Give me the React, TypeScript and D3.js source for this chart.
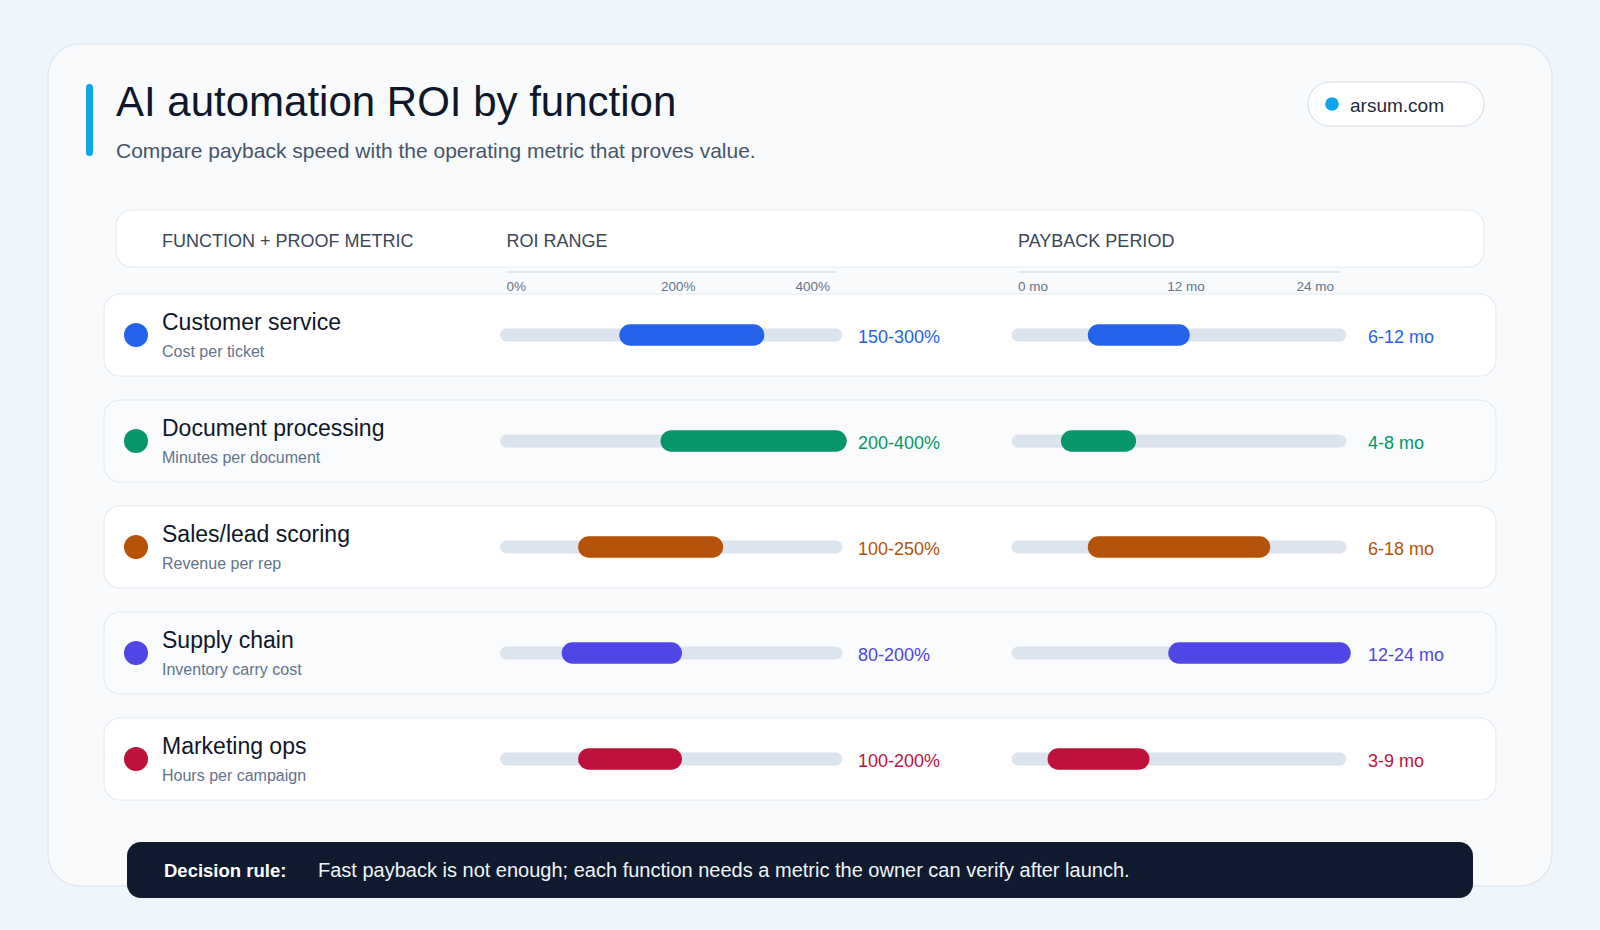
import * as d3 from 'd3';

const functions = ['Customer service', 'Document processing', 'Sales/lead scoring', 'Supply chain', 'Marketing ops'];
const proofMetrics = ['Cost per ticket', 'Minutes per document', 'Revenue per rep', 'Inventory carry cost', 'Hours per campaign'];
const roiLow = [150, 200, 100, 80, 100];
const roiHigh = [300, 400, 250, 200, 200];
const paybackLow = [6, 4, 6, 12, 3];
const paybackHigh = [12, 8, 18, 24, 9];
const seriesColors = ['#2563eb', '#059669', '#b45309', '#4f46e5', '#be123c'];
const roiTicks = [0, 200, 400];
const paybackTicks = [0, 12, 24];

const FONT = "'Liberation Sans', Arial, Helvetica, sans-serif";
const W = 1600;
const H = 930;

export default function App() {
  const roiX = d3.scaleLinear().domain([0, 400]).range([506.5, 836]);
  const payX = d3.scaleLinear().domain([0, 24]).range([1018, 1340]);
  const rowY = d3.scaleBand<string>()
    .domain(functions)
    .range([294, 800])
    .paddingInner(24 / 106)
    .paddingOuter(0);

  // first tick label sits on the axis start, last one ends near the axis end
  const tickAnchor = (i: number, n: number) => (i === 0 ? 'start' : i === n - 1 ? 'end' : 'middle');
  const tickShift = (i: number, n: number) => (i === 0 ? 0 : i === n - 1 ? -6 : 7);

  return (
    <svg width={W} height={H} viewBox={`0 0 ${W} ${H}`}
      style={{ position: 'fixed', left: 0, top: 0, display: 'block' }}
      fontFamily={FONT}>
      <rect width={W} height={H} fill="#eef5fb" />

      {/* main card */}
      <rect x={48} y={44} width={1504} height={842} rx={32} fill="#f8fafc" stroke="#e1e8f0" strokeWidth={1.5} />

      {/* heading */}
      <rect x={86} y={84} width={7} height={72} rx={3.5} fill="#0ea5e9" />
      <text x={116} y={116} fontSize={42} fill="#0f172a">AI automation ROI by function</text>
      <text x={116} y={158} fontSize={21} fill="#475569">Compare payback speed with the operating metric that proves value.</text>

      {/* badge */}
      <rect x={1308} y={82} width={176} height={44} rx={22} fill="#ffffff" stroke="#d8e0ea" strokeWidth={1.2} />
      <circle cx={1332} cy={104} r={6.8} fill="#0ea5e9" />
      <text x={1350} y={111.5} fontSize={19} fill="#1e293b">arsum.com</text>

      {/* header strip */}
      <rect x={116} y={210} width={1368} height={57} rx={16} fill="#ffffff" stroke="#e3ebf4" strokeWidth={1.2} />
      <text x={162} y={247} fontSize={18} fill="#3b4658">FUNCTION + PROOF METRIC</text>
      <text x={roiX(0)} y={247} fontSize={18} fill="#3b4658">ROI RANGE</text>
      <text x={payX(0)} y={247} fontSize={18} fill="#3b4658">PAYBACK PERIOD</text>

      {/* axes */}
      <line x1={roiX(0)} x2={roiX(400)} y1={272} y2={272} stroke="#e2e8f0" strokeWidth={2} />
      <line x1={payX(0)} x2={payX(24)} y1={272} y2={272} stroke="#e2e8f0" strokeWidth={2} />
      {roiTicks.map((t, i) => (
        <text key={'r' + t} x={roiX(t) + tickShift(i, roiTicks.length)} y={291} fontSize={13.5} fill="#64748b"
          textAnchor={tickAnchor(i, roiTicks.length)}>{`${t}%`}</text>
      ))}
      {paybackTicks.map((t, i) => (
        <text key={'p' + t} x={payX(t) + tickShift(i, paybackTicks.length)} y={291} fontSize={13.5} fill="#64748b"
          textAnchor={tickAnchor(i, paybackTicks.length)}>{`${t} mo`}</text>
      ))}

      {/* rows */}
      {functions.map((name, i) => {
        const top = rowY(name) as number;
        const h = rowY.bandwidth();
        const cy = top + h / 2;
        const c = seriesColors[i];
        return (
          <g key={name}>
            <rect x={104} y={top} width={1392} height={h} rx={16}
              fill={i % 2 === 1 ? '#f9fbfd' : '#ffffff'} stroke="#e4eaf1" strokeWidth={1.2} />
            <circle cx={136} cy={cy} r={12} fill={c} />
            <text x={162} y={top + 36} fontSize={23} fill="#0f172a">{name}</text>
            <text x={162} y={top + 62.5} fontSize={16} fill="#64748b">{proofMetrics[i]}</text>

            <line x1={roiX(0)} x2={roiX(400)} y1={cy} y2={cy} stroke="#dce4ee" strokeWidth={13} strokeLinecap="round" />
            <line x1={roiX(roiLow[i])} x2={roiX(roiHigh[i])} y1={cy} y2={cy} stroke={c} strokeWidth={21.5} strokeLinecap="round" />
            <text x={858} y={cy + 7.5} fontSize={18} fill={c}>{`${roiLow[i]}-${roiHigh[i]}%`}</text>

            <line x1={payX(0)} x2={payX(24)} y1={cy} y2={cy} stroke="#dce4ee" strokeWidth={13} strokeLinecap="round" />
            <line x1={payX(paybackLow[i])} x2={payX(paybackHigh[i])} y1={cy} y2={cy} stroke={c} strokeWidth={21.5} strokeLinecap="round" />
            <text x={1368} y={cy + 7.5} fontSize={18} fill={c}>{`${paybackLow[i]}-${paybackHigh[i]} mo`}</text>
          </g>
        );
      })}

      {/* decision rule */}
      <rect x={127} y={842} width={1346} height={56} rx={14} fill="#101a2e" />
      <text x={164} y={877} fontSize={18.5} fontWeight={600} fill="#ffffff">Decision rule:</text>
      <text x={318} y={877} fontSize={20} fill="#f1f5f9">Fast payback is not enough; each function needs a metric the owner can verify after launch.</text>
    </svg>
  );
}
